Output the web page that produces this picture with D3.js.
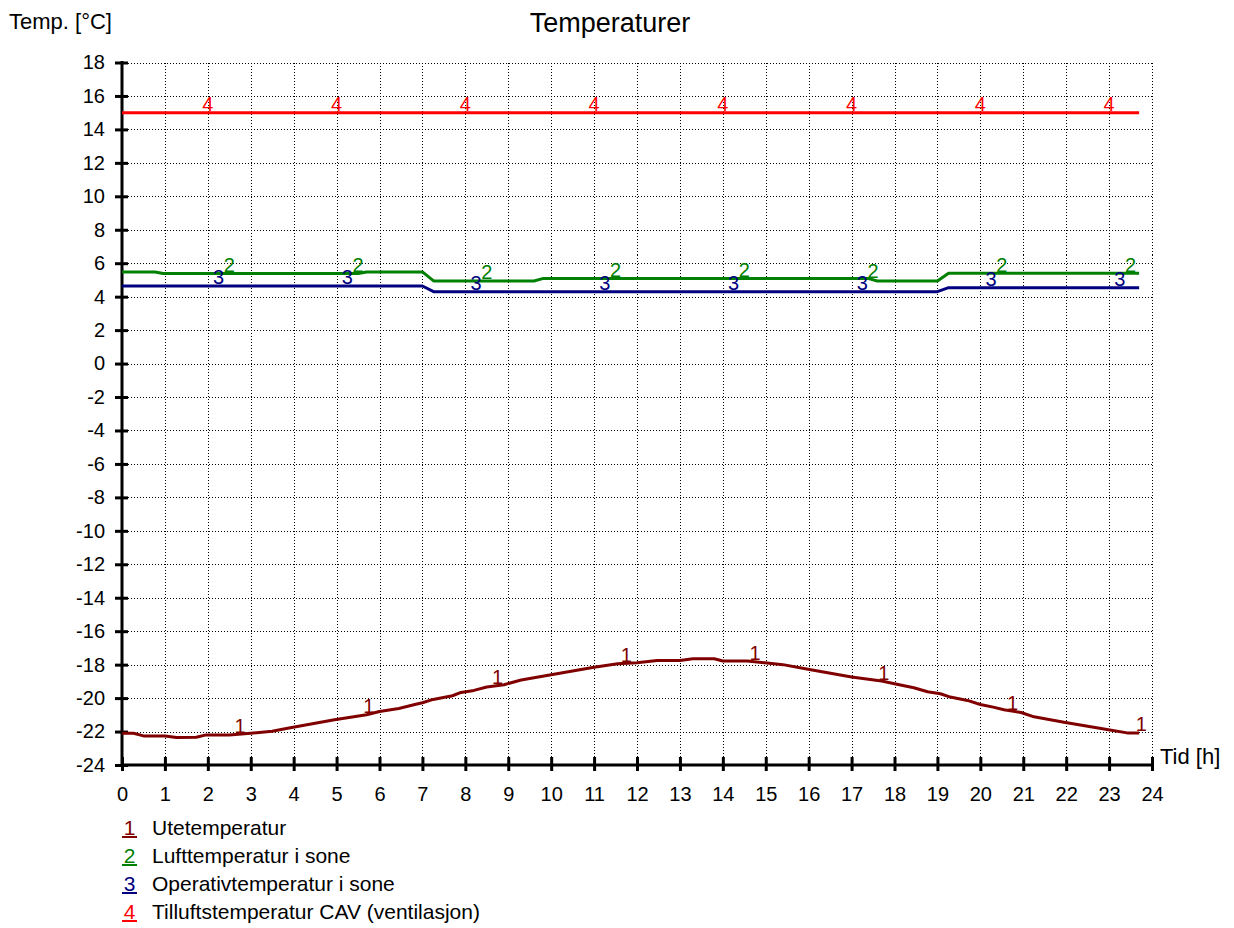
<!DOCTYPE html>
<html>
<head>
  <meta charset="UTF-8">
  <style>
    body { margin: 0; background: #fff; }
    text { font-family: "Liberation Sans", Arial, sans-serif; }
  </style>
</head>
<body>
<svg></svg>
<script src="https://d3js.org/d3.v7.min.js"></script>
<script>
// chart values
let names = ["Utetemperatur", "Lufttemperatur i sone", "Operativtemperatur i sone", "Tilluftstemperatur CAV (ventilasjon)"];
let colors = ["#800000", "#008000", "#000080", "#ff0000"];

// [time h, temp °C]
let ute = [[0,-22.1],[0.27,-22.1],[0.5,-22.26],[1.0,-22.26],[1.27,-22.36],[1.73,-22.34],[1.96,-22.2],[2.5,-22.2],
  [3.0,-22.1],[3.5,-21.98],[3.86,-21.8],[4.95,-21.3],[5.7,-21.0],[6.0,-20.8],[6.45,-20.62],[6.8,-20.4],[7.0,-20.28],
  [7.25,-20.08],[7.7,-19.86],[7.9,-19.66],[8.2,-19.54],[8.5,-19.34],[8.9,-19.2],[9.3,-18.92],[11.0,-18.15],
  [11.55,-17.95],[12.0,-17.88],[12.47,-17.75],[13.0,-17.75],[13.3,-17.65],[13.8,-17.65],[14.0,-17.78],[14.57,-17.78],
  [15.03,-17.9],[15.4,-18.0],[16.05,-18.3],[17.0,-18.74],[17.7,-18.98],[18.0,-19.14],[18.45,-19.38],[18.77,-19.62],
  [19.07,-19.74],[19.3,-19.94],[19.7,-20.14],[20.0,-20.38],[20.3,-20.54],[20.55,-20.7],[20.95,-20.86],[21.25,-21.12],
  [21.95,-21.44],[22.95,-21.88],[23.42,-22.08],[23.7,-22.08]];
let luft = [[0,5.48],[0.77,5.48],[0.96,5.38],[5.5,5.38],[5.7,5.48],[7.0,5.48],[7.26,4.94],[9.6,4.94],[9.8,5.08],
  [17.4,5.08],[17.6,4.94],[19.0,4.94],[19.26,5.4],[23.7,5.4]];
let operativ = [[0,4.64],[7.0,4.64],[7.26,4.3],[19.0,4.3],[19.26,4.54],[23.7,4.54]];
let tilluft = [[0,15],[23.7,15]];
let series = [ute, luft, operativ, tilluft];

// label positions along each curve (hours)
let labelStart = [2.75, 2.5, 2.25, 2.0];
let labelStep = 3;

let xTicks = d3.range(0, 25, 1);
let yTicks = d3.range(-24, 19, 2);

let width = 1234, height = 928;
let svg = d3.select("svg").attr("width", width).attr("height", height);

let x = d3.scaleLinear().domain([0, 24]).range([122, 1152]);
let y = d3.scaleLinear().domain([-24, 18]).range([765, 62.5]);

// grid
let grid = svg.append("g").attr("stroke", "#000").attr("stroke-width", 1)
  .attr("stroke-dasharray", "1,2").attr("shape-rendering", "crispEdges");
grid.selectAll(".h").data(yTicks.filter(d => d > -24)).enter().append("line")
  .attr("x1", x(0)).attr("x2", x(24))
  .attr("y1", d => Math.round(y(d)) + 0.5).attr("y2", d => Math.round(y(d)) + 0.5);
grid.selectAll(".v").data(xTicks.filter(d => d > 0)).enter().append("line")
  .attr("y1", y(18)).attr("y2", y(-24))
  .attr("x1", d => Math.round(x(d)) + 0.5).attr("x2", d => Math.round(x(d)) + 0.5);

// axes (plain hyphen for negatives)
let yAxis = svg.append("g").attr("transform", "translate(" + x(0) + ",0)")
  .call(d3.axisLeft(y).tickValues(yTicks).tickSize(7).tickPadding(10).tickFormat(d => String(d)));
let xAxis = svg.append("g").attr("transform", "translate(0," + y(-24) + ")")
  .call(d3.axisBottom(x).tickValues(xTicks).tickSize(6).tickPadding(16).tickFormat(d => String(d)));

[xAxis, yAxis].forEach(a => {
  a.select(".domain").remove();
  a.selectAll(".tick line").attr("stroke-width", 3);
  a.selectAll("text").attr("font-size", 20).attr("fill", "#000")
    .style("font-family", "'Liberation Sans', Arial, sans-serif");
});
yAxis.selectAll(".tick line").attr("x1", 6);
xAxis.selectAll(".tick line").attr("y1", -8);
svg.append("line").attr("x1", x(0)).attr("x2", x(0)).attr("y1", y(18) - 1.5).attr("y2", y(-24) + 1.5)
  .attr("stroke", "#000").attr("stroke-width", 3);
svg.append("line").attr("x1", x(0)).attr("x2", x(24) + 1.5).attr("y1", y(-24)).attr("y2", y(-24))
  .attr("stroke", "#000").attr("stroke-width", 3);

// lines
let line = d3.line().x(d => x(d[0])).y(d => y(d[1]));
svg.append("g").selectAll("path").data(series).enter().append("path")
  .attr("d", line).attr("fill", "none")
  .attr("stroke", (d, i) => colors[i]).attr("stroke-width", 3)
  .attr("stroke-linejoin", "round");

// curve labels
function valueAt(s, t) {
  if (t >= s[s.length - 1][0]) return s[s.length - 1][1];
  let i = d3.bisector(d => d[0]).right(s, t);
  let a = s[i - 1], b = s[i];
  return a[1] + (b[1] - a[1]) * (t - a[0]) / (b[0] - a[0]);
}
series.forEach((s, i) => {
  let ts = d3.range(labelStart[i], 24, labelStep);
  svg.append("g").selectAll("text").data(ts).enter().append("text")
    .attr("x", t => x(t)).attr("y", t => y(valueAt(s, t)) - 1.5)
    .attr("text-anchor", "middle").attr("font-size", 20)
    .attr("fill", colors[i]).text(i + 1);
});

// titles
svg.append("text").attr("x", 610).attr("y", 32).attr("text-anchor", "middle")
  .attr("font-size", 27).text("Temperaturer");
svg.append("text").attr("x", 9).attr("y", 29).attr("font-size", 22).text("Temp. [°C]");
svg.append("text").attr("x", 1160).attr("y", 764).attr("font-size", 22).text("Tid [h]");

// legend
let legend = svg.append("g").selectAll("g").data(names).enter().append("g")
  .attr("transform", (d, i) => "translate(122," + (835 + i * 28) + ")");
legend.append("text").attr("x", 7.5).attr("text-anchor", "middle").attr("font-size", 21)
  .attr("fill", (d, i) => colors[i]).text((d, i) => i + 1);
legend.append("line").attr("x1", 0).attr("x2", 15).attr("y1", 2).attr("y2", 2)
  .attr("stroke", (d, i) => colors[i]).attr("stroke-width", 2);
legend.append("text").attr("x", 30).attr("font-size", 21).attr("fill", "#000").text(d => d);
</script>
</body>
</html>
